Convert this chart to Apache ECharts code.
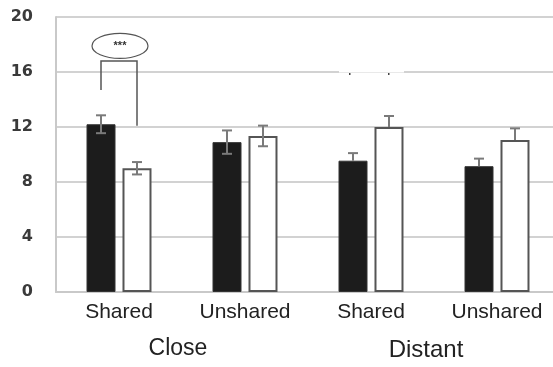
<!DOCTYPE html>
<html>
<head>
<meta charset="utf-8">
<script src="https://cdn.jsdelivr.net/npm/echarts@6/dist/echarts.min.js"></script>
<style>
  html, body { margin: 0; padding: 0; background: #fff; }
  #chart { width: 553px; height: 367px; }
</style>
</head>
<body>
<div id="chart"></div>
<script>
// Conditions along the x axis
var categories = ['Shared', 'Unshared', 'Shared', 'Unshared'];
var groupNames = ['Close', 'Distant'];
// Mean scores (black = first condition, white = second)
var blackValues = [12.2, 10.9, 9.55, 9.15];
var whiteValues = [9.0, 11.35, 12.0, 11.05];
// Standard errors
var blackErrors = [0.65, 0.85, 0.55, 0.55];
var whiteErrors = [0.45, 0.75, 0.8, 0.85];
// Whether the lower half of the error bar is drawn
var showLower = [true, true, false, false];
var yTicks = [0, 4, 8, 12, 16, 20];
var significance = '***';

var BAR_W = 29, GAP = 7;

var chart = echarts.init(document.getElementById('chart'), null, { renderer: 'canvas' });

function errorData(values, errors) {
  return values.map(function (v, i) {
    return [i, v, errors[i], showLower[i] ? 1 : 0];
  });
}

function errorRenderer(side) {
  return function (params, api) {
    var idx = api.value(0);
    var mean = api.value(1);
    var err = api.value(2);
    var lower = api.value(3);
    var center = api.coord([idx, mean]);
    var x = center[0] + side * (BAR_W + GAP) / 2;
    var top = api.coord([idx, mean + err])[1];
    var bottom = lower ? api.coord([idx, mean - err])[1] : center[1];
    var style = { stroke: '#7a7a7a', lineWidth: 2 };
    var children = [
      { type: 'line', shape: { x1: x, y1: top, x2: x, y2: bottom }, style: style },
      { type: 'line', shape: { x1: x - 5, y1: top, x2: x + 5, y2: top }, style: style }
    ];
    if (lower) {
      children.push({ type: 'line', shape: { x1: x - 5, y1: bottom, x2: x + 5, y2: bottom }, style: style });
    }
    return { type: 'group', children: children };
  };
}

var option = {
  animation: false,
  backgroundColor: '#ffffff',
  grid: {
    left: 56, width: 504, top: 17, height: 275,
    containLabel: false,
    outerBoundsMode: 'none'
  },
  xAxis: {
    type: 'category',
    data: categories,
    boundaryGap: true,
    axisLine: { show: true, lineStyle: { color: '#c9c9c9', width: 2 } },
    axisTick: { show: false },
    axisLabel: {
      color: '#222',
      fontSize: 21,
      fontFamily: 'Liberation Sans, Arial, sans-serif',
      margin: 10
    },
    splitLine: {
      show: true,
      interval: function (index) { return index === 2; },
      lineStyle: { color: '#9a9a9a', width: 1.5 }
    }
  },
  yAxis: {
    type: 'value',
    min: yTicks[0],
    max: yTicks[yTicks.length - 1],
    interval: yTicks[1] - yTicks[0],
    axisLine: { show: true, lineStyle: { color: '#c9c9c9', width: 2 } },
    axisTick: { show: false },
    axisLabel: {
      color: '#3a3a3a',
      fontSize: 16,
      fontWeight: 'bold',
      fontFamily: 'DejaVu Sans, sans-serif',
      margin: 23
    },
    splitLine: { show: true, lineStyle: { color: '#d2d2d2', width: 2 } }
  },
  series: [
    {
      type: 'bar',
      data: blackValues,
      barWidth: BAR_W,
      barGap: (GAP / BAR_W * 100).toFixed(1) + '%',
      itemStyle: { color: '#1c1c1c', borderColor: '#333', borderWidth: 1 },
      z: 2
    },
    {
      type: 'bar',
      data: whiteValues,
      barWidth: BAR_W,
      itemStyle: { color: '#ffffff', borderColor: '#555', borderWidth: 2 },
      z: 2
    },
    {
      type: 'custom',
      renderItem: errorRenderer(-1),
      data: errorData(blackValues, blackErrors),
      z: 3
    },
    {
      type: 'custom',
      renderItem: errorRenderer(1),
      data: errorData(whiteValues, whiteErrors),
      z: 3
    }
  ]
};

chart.setOption(option);

// Group titles, significance bracket and annotation
function px(idx, val) { return chart.convertToPixel({ seriesIndex: 0 }, [idx, val]); }
var c0 = px(0, 0), c1 = px(1, 0), c2 = px(2, 0), c3 = px(3, 0);
var off = (BAR_W + GAP) / 2;
var leftX = c0[0] - off, rightX = c0[0] + off;
var bracketTop = px(0, 16.8)[1];
var leftFoot = px(0, 14.7)[1];
var rightFoot = px(0, 12.1)[1];
var ellipseY = px(0, 17.9)[1];
var gridY16 = px(0, 16)[1];

chart.setOption({
  graphic: [
    {
      type: 'text',
      x: (c0[0] + c1[0]) / 2 - 4, y: 349,
      style: { text: groupNames[0], fontSize: 23, fontFamily: 'Liberation Sans, Arial, sans-serif', fill: '#222', textAlign: 'center', textVerticalAlign: 'middle' }
    },
    {
      type: 'text',
      x: (c2[0] + c3[0]) / 2 - 8, y: 350,
      style: { text: groupNames[1], fontSize: 24, fontFamily: 'Liberation Sans, Arial, sans-serif', fill: '#222', textAlign: 'center', textVerticalAlign: 'middle' }
    },
    {
      type: 'polyline',
      shape: { points: [[leftX, leftFoot], [leftX, bracketTop], [rightX, bracketTop], [rightX, rightFoot]] },
      style: { stroke: '#555', lineWidth: 1.5, fill: null },
      z: 10
    },
    {
      type: 'ellipse',
      shape: { cx: c0[0] + 1, cy: ellipseY, rx: 28, ry: 12.5 },
      style: { stroke: '#555', lineWidth: 1.2, fill: '#fff' },
      z: 10
    },
    {
      type: 'text',
      x: c0[0] + 1, y: ellipseY,
      style: { text: significance, fontSize: 11, fontWeight: 'bold', fontFamily: 'Liberation Sans, Arial, sans-serif', fill: '#333', textAlign: 'center', textVerticalAlign: 'middle' },
      z: 11
    },
    {
      type: 'rect',
      shape: { x: c2[0] - 32, y: gridY16 - 15, width: 65, height: 15.5 },
      style: { fill: '#fff' },
      z: 10
    },
    {
      type: 'rect',
      shape: { x: c2[0] - 22, y: gridY16 + 1, width: 1.5, height: 2 },
      style: { fill: '#444' },
      z: 10
    },
    {
      type: 'rect',
      shape: { x: c2[0] + 17, y: gridY16 + 1, width: 1.5, height: 2 },
      style: { fill: '#444' },
      z: 10
    }
  ]
});
</script>
</body>
</html>
